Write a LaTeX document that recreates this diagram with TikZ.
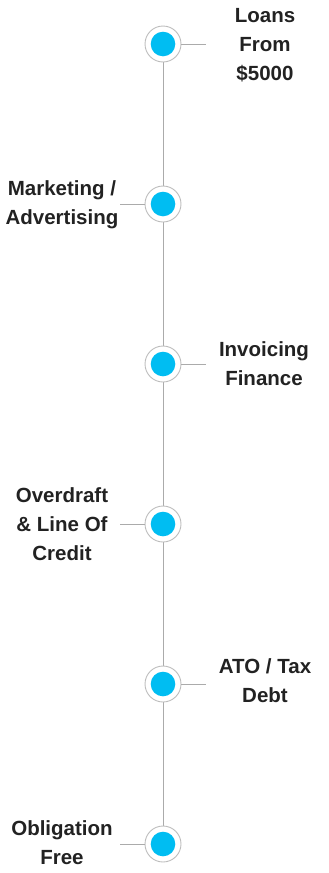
\documentclass[tikz,border=0pt]{standalone}
\usepackage{fontspec}
\setmainfont{Liberation Sans}
\usetikzlibrary{positioning,backgrounds}

\definecolor{dotblue}{HTML}{00BDF2}
\definecolor{ringgray}{HTML}{BDBDBD}
\definecolor{linegray}{HTML}{ABABAB}
\definecolor{textdark}{HTML}{222222}

\begin{document}
\begin{tikzpicture}[x=1pt,y=-1pt,
    dot/.style={circle,draw=ringgray,line width=0.9pt,fill=white,
      minimum size=36pt,inner sep=0pt,
      path picture={\fill[dotblue] (path picture bounding box.center) circle (12.3pt);}},
    lbl/.style={align=center,text=textdark,inner sep=0pt,
      font=\bfseries\fontsize{20.5}{29}\selectfont},
    tick/.style={draw=linegray,line width=0.9pt}]
  \useasboundingbox (0,0) rectangle (329,873);

  % dots on the timeline
  \node[dot] (d1) at (163,44) {};
  \node[dot] (d2) at (163,204) {};
  \node[dot] (d3) at (163,364) {};
  \node[dot] (d4) at (163,524) {};
  \node[dot] (d5) at (163,684) {};
  \node[dot] (d6) at (163,844) {};

  % spine behind the dots
  \begin{scope}[on background layer]
    \draw[tick] (d1) -- (d6);
  \end{scope}

  % short ticks
  \coordinate[right=25pt of d1.east] (t1);
  \coordinate[left=25pt of d2.west] (t2);
  \coordinate[right=25pt of d3.east] (t3);
  \coordinate[left=25pt of d4.west] (t4);
  \coordinate[right=25pt of d5.east] (t5);
  \coordinate[left=25pt of d6.west] (t6);
  \foreach \i in {1,...,6} {
    \draw[tick] (d\i) -- (t\i);
  }

  % labels
  \node[lbl] (l1) at (265,45) {Loans\\From\\\$5000};
  \node[lbl] (l2) at (62,205) {Marketing /\\Advertising};
  \node[lbl] (l3) at (264,364) {Invoicing\\Finance};
  \node[lbl] (l4) at (62,524) {Overdraft\\\& Line Of\\Credit};
  \node[lbl] (l5) at (265,681) {ATO / Tax\\Debt};
  \node[lbl] (l6) at (62,843) {Obligation\\Free};
\end{tikzpicture}
\end{document}
